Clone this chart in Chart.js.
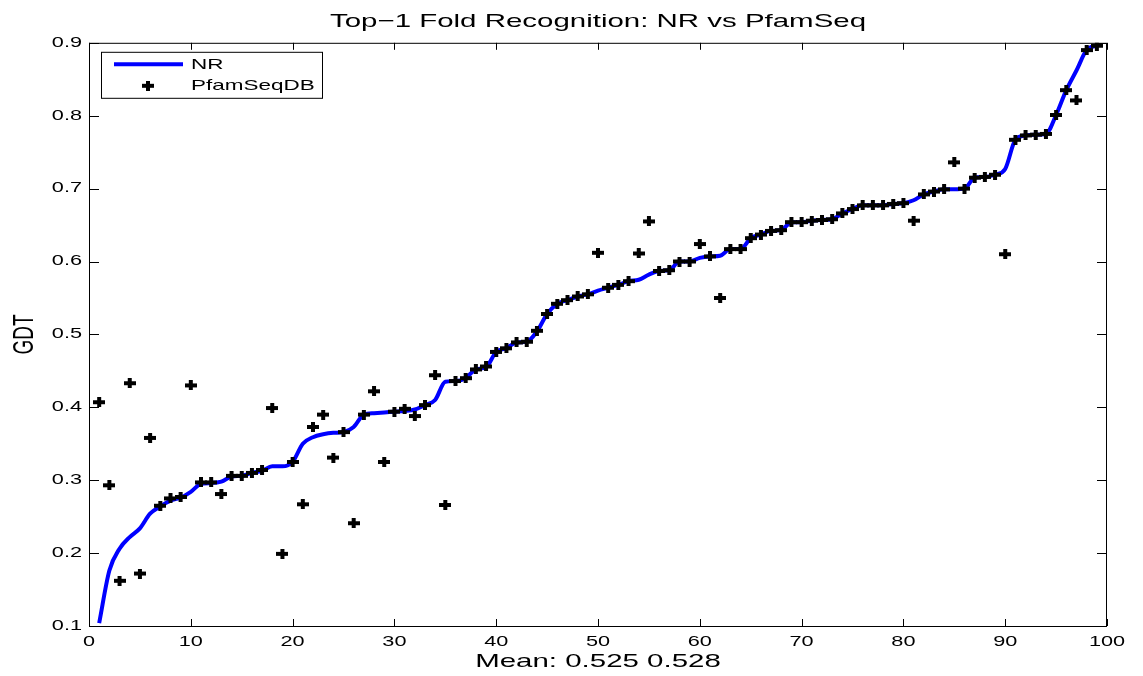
<!DOCTYPE html>
<html>
<head>
<meta charset="utf-8">
<title>Top−1 Fold Recognition: NR vs PfamSeq</title>
<script src="https://cdn.jsdelivr.net/npm/chart.js@4/dist/chart.umd.min.js"></script>
<style>
    html, body { margin: 0; padding: 0; background: #ffffff; }
    #wrap { width: 1143px; height: 676px; }
</style>
</head>
<body>
<div id="wrap"><canvas id="chart" width="1143" height="676"></canvas></div>
<script>
// Query rank along the x axis (targets sorted by the NR score).
const queryRank = [
     1,  2,  3,  4,  5,  6,  7,  8,  9, 10, 11, 12, 13, 14, 15, 16, 17, 18, 19, 20,
    21, 22, 23, 24, 25, 26, 27, 28, 29, 30, 31, 32, 33, 34, 35, 36, 37, 38, 39, 40,
    41, 42, 43, 44, 45, 46, 47, 48, 49, 50, 51, 52, 53, 54, 55, 56, 57, 58, 59, 60,
    61, 62, 63, 64, 65, 66, 67, 68, 69, 70, 71, 72, 73, 74, 75, 76, 77, 78, 79, 80,
    81, 82, 83, 84, 85, 86, 87, 88, 89, 90, 91, 92, 93, 94, 95, 96, 97, 98, 99
];

// Top-1 GDT using the NR database (mean 0.525).
const nrGdt = [
    0.104, 0.176, 0.206, 0.222, 0.234, 0.254, 0.264, 0.272, 0.276, 0.284,
    0.295, 0.296, 0.298, 0.305, 0.306, 0.310, 0.313, 0.319, 0.319, 0.325,
    0.350, 0.359, 0.363, 0.365, 0.366, 0.373, 0.390, 0.392, 0.393, 0.394,
    0.395, 0.397, 0.403, 0.410, 0.435, 0.436, 0.440, 0.452, 0.455, 0.476,
    0.481, 0.489, 0.490, 0.504, 0.528, 0.542, 0.547, 0.552, 0.555, 0.560,
    0.564, 0.568, 0.573, 0.575, 0.582, 0.587, 0.588, 0.600, 0.600, 0.605,
    0.607, 0.608, 0.617, 0.617, 0.632, 0.637, 0.642, 0.643, 0.654, 0.654,
    0.656, 0.657, 0.658, 0.666, 0.672, 0.677, 0.677, 0.677, 0.679, 0.680,
    0.684, 0.692, 0.696, 0.699, 0.699, 0.700, 0.715, 0.716, 0.719, 0.727,
    0.767, 0.773, 0.774, 0.775, 0.801, 0.835, 0.862, 0.890, 0.896
];

// Top-1 GDT using the PfamSeq database (mean 0.528).
const pfamGdt = [
    0.407, 0.293, 0.162, 0.433, 0.172, 0.358, 0.265, 0.275, 0.277, 0.430,
    0.297, 0.297, 0.281, 0.306, 0.306, 0.310, 0.314, 0.399, 0.199, 0.325,
    0.267, 0.373, 0.390, 0.331, 0.366, 0.241, 0.390, 0.422, 0.325, 0.394,
    0.398, 0.388, 0.403, 0.444, 0.266, 0.436, 0.440, 0.452, 0.456, 0.476,
    0.481, 0.489, 0.490, 0.505, 0.528, 0.542, 0.547, 0.552, 0.555, 0.612,
    0.564, 0.568, 0.573, 0.611, 0.655, 0.587, 0.588, 0.600, 0.600, 0.624,
    0.607, 0.550, 0.617, 0.617, 0.632, 0.637, 0.642, 0.643, 0.654, 0.654,
    0.656, 0.657, 0.658, 0.666, 0.672, 0.677, 0.677, 0.677, 0.679, 0.680,
    0.656, 0.692, 0.696, 0.699, 0.736, 0.700, 0.715, 0.716, 0.719, 0.610,
    0.767, 0.773, 0.774, 0.775, 0.801, 0.835, 0.821, 0.890, 0.896
];

// Axis tick labels.
const xTicks = [0, 10, 20, 30, 40, 50, 60, 70, 80, 90, 100];
const yTicks = [0.1, 0.2, 0.3, 0.4, 0.5, 0.6, 0.7, 0.8, 0.9];

const FONT = '"Liberation Sans", Arial, Helvetica, sans-serif';
const TEXT_STRETCH = 1.55;   // figure text is drawn wide, like the exported MATLAB figure

const canvas = document.getElementById("chart");
const ctx2d = canvas.getContext("2d");

// Every label goes through fillText, so widen it there (horizontally, in screen space,
// about the anchor point so alignment is kept).
const baseFillText = ctx2d.fillText;
ctx2d.fillText = function (text, x, y, maxWidth) {
    const m = this.getTransform();
    const p = m.transformPoint(new DOMPoint(x, y));
    const s = new DOMMatrix().translate(p.x, p.y).scale(TEXT_STRETCH, 1).translate(-p.x, -p.y);
    this.save();
    this.setTransform(s.multiply(m));
    if (maxWidth === undefined) baseFillText.call(this, text, x, y);
    else baseFillText.call(this, text, x, y, maxWidth);
    this.restore();
};

// Bold plus marker, a bit wider than tall.
function makePlus(w, h, t) {
    const c = document.createElement("canvas");
    c.width = w;
    c.height = h;
    const g = c.getContext("2d");
    g.fillStyle = "#000000";
    g.fillRect(0, Math.round((h - t) / 2), w, t);
    g.fillRect(Math.round((w - t) / 2), 0, t, h);
    return c;
}
const plusMark = makePlus(12, 10, 4);

// Axes box with inward tick marks, plus the legend inside the top-left corner.
const matlabAxes = {
    id: "matlabAxes",
    afterDraw(chart) {
        const ctx = chart.ctx;
        const { left, right, top, bottom } = chart.chartArea;
        const xs = chart.scales.x, ys = chart.scales.y;

        ctx.save();
        ctx.strokeStyle = "#000000";
        ctx.lineWidth = 1;
        ctx.strokeRect(left + 0.5, top + 0.5, right - left - 1, bottom - top);

        ctx.beginPath();
        for (const v of xTicks) {
            const px = Math.round(xs.getPixelForValue(v)) + 0.5;
            ctx.moveTo(px, bottom); ctx.lineTo(px, bottom - 7);
            ctx.moveTo(px, top); ctx.lineTo(px, top + 7);
        }
        for (const v of yTicks) {
            const py = Math.round(ys.getPixelForValue(v)) + 0.5;
            ctx.moveTo(left, py); ctx.lineTo(left + 10, py);
            ctx.moveTo(right, py); ctx.lineTo(right - 10, py);
        }
        ctx.stroke();

        // legend
        const nr = chart.data.datasets[1], pf = chart.data.datasets[0];
        const bx = left + 12, by = top + 9, bw = 221, bh = 46;
        ctx.fillStyle = "#ffffff";
        ctx.fillRect(bx, by, bw, bh);
        ctx.strokeRect(bx + 0.5, by + 0.5, bw, bh);

        ctx.strokeStyle = nr.borderColor;
        ctx.lineWidth = nr.borderWidth;
        ctx.beginPath();
        ctx.moveTo(bx + 13, by + 12.5);
        ctx.lineTo(bx + 82, by + 12.5);
        ctx.stroke();
        ctx.drawImage(plusMark, bx + 47 - 6, by + 34 - 5);

        ctx.fillStyle = "#000000";
        ctx.font = "14.5px " + FONT;
        ctx.textAlign = "left";
        ctx.textBaseline = "middle";
        ctx.fillText(nr.label, bx + 90, by + 13);
        ctx.fillText(pf.label, bx + 90, by + 34.5);
        ctx.restore();
    }
};

Chart.defaults.color = "#000000";
Chart.defaults.font.family = FONT;

const chart = new Chart(ctx2d, {
    type: "line",
    data: {
        datasets: [
            {
                label: "PfamSeqDB",
                data: queryRank.map((r, i) => ({ x: r, y: pfamGdt[i] })),
                showLine: false,
                pointStyle: plusMark,
                pointRadius: 6,
                borderColor: "#000000",
                backgroundColor: "#000000",
                order: 0
            },
            {
                label: "NR",
                data: queryRank.map((r, i) => ({ x: r, y: nrGdt[i] })),
                borderColor: "#0000ff",
                borderWidth: 4,
                pointRadius: 0,
                cubicInterpolationMode: "monotone",
                fill: false,
                order: 1
            }
        ]
    },
    options: {
        responsive: false,
        animation: false,
        events: [],
        layout: { padding: { left: 0, right: 36, top: 0, bottom: 0 } },
        plugins: {
            legend: { display: false },
            tooltip: { enabled: false },
            title: {
                display: true,
                fullSize: false,
                text: "Top−1 Fold Recognition: NR vs PfamSeq",
                font: { size: 19, weight: "normal" },
                padding: { top: 10.5, bottom: 9.5 }
            }
        },
        scales: {
            x: {
                type: "linear",
                min: 0,
                max: 100,
                afterBuildTicks: s => { s.ticks = xTicks.map(v => ({ value: v })); },
                afterFit: s => { s.height = 50; },
                grid: { display: false, drawTicks: false },
                border: { display: false },
                ticks: { padding: 8, font: { size: 14 }, maxRotation: 0, autoSkip: false },
                title: {
                    display: true,
                    text: "Mean: 0.525 0.528",
                    font: { size: 19 },
                    padding: { top: 0, bottom: 3 }
                }
            },
            y: {
                type: "linear",
                min: 0.1,
                max: 0.9,
                afterBuildTicks: s => { s.ticks = yTicks.map(v => ({ value: v })); },
                afterFit: s => { s.width = 89; },
                grid: { display: false, drawTicks: false },
                border: { display: false },
                ticks: { padding: 7, font: { size: 14 }, callback: v => v.toFixed(1) },
                title: {
                    display: true,
                    text: "GDT",
                    font: { size: 19 },
                    padding: { top: 13, bottom: 0 }
                }
            }
        }
    },
    plugins: [matlabAxes]
});
</script>
</body>
</html>
